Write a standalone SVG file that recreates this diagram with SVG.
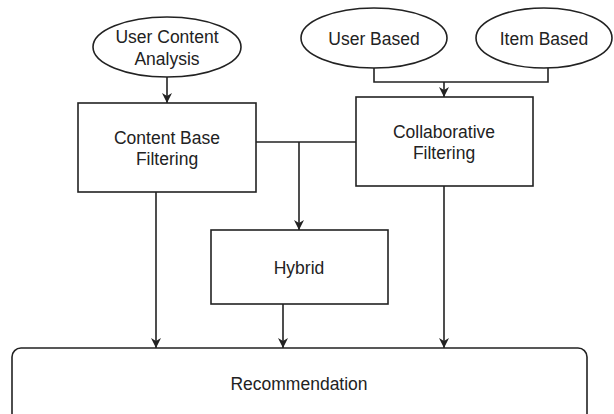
<svg xmlns="http://www.w3.org/2000/svg" width="614" height="414" viewBox="0 0 614 414">
<style>
.s{fill:#fff;stroke:#222;stroke-width:1.6}
.c{fill:none;stroke:#222;stroke-width:1.6}
text{font-family:"Liberation Sans",Arial,sans-serif;font-size:17.5px;fill:#222;text-anchor:middle;dominant-baseline:central}
</style>
<defs>
<marker id="a" viewBox="0 0 10 10" refX="10" refY="5" markerWidth="10" markerHeight="10" markerUnits="userSpaceOnUse" orient="auto">
<path d="M0,0 L10,5 L0,10 L3,5 Z" fill="#222"/>
</marker>
</defs>
<rect width="614" height="414" fill="#fff"/>
<g id="connectors">
<path class="c" d="M167,77 V103" marker-end="url(#a)"/>
<path class="c" d="M374,68 V82 H548 V68"/>
<path class="c" d="M444,82 V97" marker-end="url(#a)"/>
<path class="c" d="M256,142 H356"/>
<path class="c" d="M299,142 V230" marker-end="url(#a)"/>
<path class="c" d="M156,192 V348" marker-end="url(#a)"/>
<path class="c" d="M283,304 V348" marker-end="url(#a)"/>
<path class="c" d="M444,186 V348" marker-end="url(#a)"/>
</g>
<g id="user-content-analysis">
<ellipse class="s" cx="167" cy="47" rx="74" ry="30"/>
<text x="167" y="37">User Content</text>
<text x="167" y="59">Analysis</text>
</g>
<g id="user-based">
<ellipse class="s" cx="374" cy="38" rx="73" ry="30"/>
<text x="374" y="39">User Based</text>
</g>
<g id="item-based">
<ellipse class="s" cx="544" cy="38" rx="68" ry="30"/>
<text x="544" y="39">Item Based</text>
</g>
<g id="content-base-filtering">
<rect class="s" x="78" y="103" width="178" height="89"/>
<text x="167" y="138">Content Base</text>
<text x="167" y="159">Filtering</text>
</g>
<g id="collaborative-filtering">
<rect class="s" x="356" y="97" width="177" height="89"/>
<text x="444" y="132">Collaborative</text>
<text x="444" y="153">Filtering</text>
</g>
<g id="hybrid">
<rect class="s" x="211" y="230" width="177" height="74"/>
<text x="299" y="268">Hybrid</text>
</g>
<g id="recommendation">
<rect class="s" x="12" y="348" width="575" height="80" rx="9"/>
<text x="299" y="384">Recommendation</text>
</g>
</svg>
